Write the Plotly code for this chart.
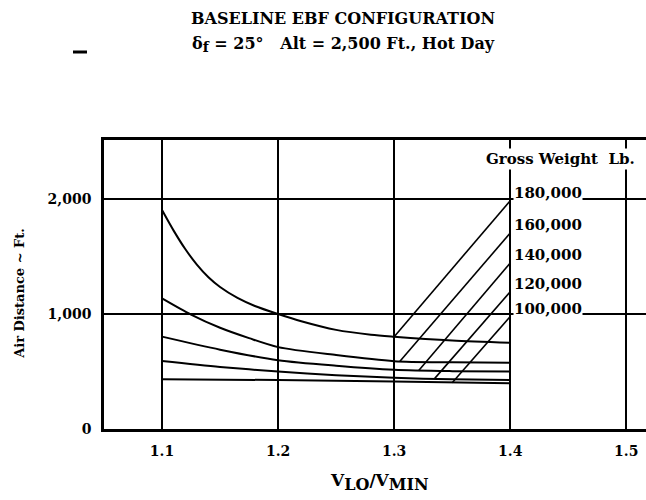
import plotly.graph_objects as go

# ---- data ----
weights = ["180,000", "160,000", "140,000", "120,000", "100,000"]

x_180 = [1.1, 1.11, 1.12, 1.13, 1.14, 1.15, 1.165, 1.18, 1.2, 1.22, 1.25, 1.28, 1.3, 1.35, 1.4]
y_180 = [1904, 1725, 1565, 1430, 1320, 1235, 1140, 1070, 1000, 937, 862, 820, 803, 770, 750]

x_160 = [1.1, 1.125, 1.15, 1.175, 1.2, 1.25, 1.3, 1.35, 1.4]
y_160 = [1136, 995, 880, 790, 712, 643, 590, 580, 577]

x_140 = [1.1, 1.15, 1.2, 1.25, 1.3, 1.35, 1.4]
y_140 = [803, 690, 598, 550, 515, 503, 499]

x_120 = [1.1, 1.15, 1.2, 1.25, 1.3, 1.35, 1.4]
y_120 = [591, 540, 499, 468, 445, 432, 426]

x_100 = [1.1, 1.2, 1.3, 1.4]
y_100 = [432, 426, 412, 397]

# cross lines (start on curve, end on 1.4 line)
diag_x0 = [1.300, 1.305, 1.321, 1.335, 1.350]
diag_y0 = [803, 589, 507, 440, 402]
diag_x1 = [1.4, 1.4, 1.4, 1.4, 1.4]
diag_y1 = [1985, 1704, 1443, 1194, 977]

x_ticks = [1.1, 1.2, 1.3, 1.4, 1.5]
x_ticktext = ["<b>1.1</b>", "<b>1.2</b>", "<b>1.3</b>", "<b>1.4</b>", "<b>1.5</b>"]
y_ticks = [0, 1000, 2000]
y_ticktext = ["<b>0</b>", "<b>1,000</b>", "<b>2,000</b>"]

FONT = "DejaVu Serif"

fig = go.Figure()

for xs, ys in [(x_180, y_180), (x_160, y_160), (x_140, y_140), (x_120, y_120), (x_100, y_100)]:
    fig.add_trace(go.Scatter(x=xs, y=ys, mode="lines",
                             line=dict(color="black", width=2, shape="spline", smoothing=0.8),
                             hoverinfo="skip", showlegend=False))

for a, b, c, d in zip(diag_x0, diag_y0, diag_x1, diag_y1):
    fig.add_trace(go.Scatter(x=[a, c], y=[b, d], mode="lines", line=dict(color="black", width=1.6),
                             hoverinfo="skip", showlegend=False))

annotations = []
for w, yv in zip(weights, diag_y1):
    annotations.append(dict(x=1.4, y=yv, xref="x", yref="y", text="<b>" + w + "</b>", showarrow=False,
                            xanchor="left", yanchor="middle", xshift=3, yshift=8,
                            bgcolor="white", borderpad=0,
                            font=dict(family=FONT, size=15, color="black")))

annotations.append(dict(x=1.443, y=2348, xref="x", yref="y", text="<b>Gross Weight  Lb.</b>", showarrow=False,
                        xanchor="center", yanchor="middle", bgcolor="white", borderpad=1,
                        font=dict(family=FONT, size=15, color="black")))

annotations.append(dict(x=0.441, y=1.419, xref="paper", yref="paper", text="<b>BASELINE EBF CONFIGURATION</b>",
                        showarrow=False, xanchor="center", yanchor="middle",
                        font=dict(family=FONT, size=16, color="black")))
annotations.append(dict(x=0.441, y=1.33, xref="paper", yref="paper",
                        text="<b>δ<sub><span style='font-size:14px'>f</span></sub> = 25°   Alt = 2,500 Ft., Hot Day</b>",
                        showarrow=False, xanchor="center", yanchor="middle",
                        font=dict(family=FONT, size=16, color="black")))
annotations.append(dict(x=-0.155, y=0.471, xref="paper", yref="paper", text="<b>Air Distance ~ Ft.</b>",
                        showarrow=False, textangle=-90, xanchor="center", yanchor="middle",
                        font=dict(family=FONT, size=13, color="black")))
annotations.append(dict(x=0.509, y=-0.183, xref="paper", yref="paper",
                        text="<b>V<sub><span style='font-size:16px'>LO</span></sub>/V<sub><span style='font-size:16px'>MIN</span></sub></b>",
                        showarrow=False, xanchor="center", yanchor="middle",
                        font=dict(family=FONT, size=17, color="black")))

fig.update_layout(
    width=646, height=500,
    margin=dict(l=104, r=0, t=140, b=71),
    paper_bgcolor="white", plot_bgcolor="white",
    showlegend=False,
    annotations=annotations,
    shapes=[dict(type="line", xref="paper", yref="paper", x0=-0.0572, x1=-0.0314, y0=1.3045, y1=1.3045,
                 line=dict(color="black", width=3))],
    xaxis=dict(range=[1.05, 1.517], tickvals=x_ticks, ticktext=x_ticktext,
               showgrid=True, gridcolor="black", gridwidth=2,
               showline=True, linecolor="black", linewidth=2.5, mirror=True,
               ticks="", ticklabelstandoff=7, zeroline=False,
               tickfont=dict(family=FONT, size=14, color="black")),
    yaxis=dict(range=[0, 2513], tickvals=y_ticks, ticktext=y_ticktext,
               showgrid=True, gridcolor="black", gridwidth=2,
               showline=True, linecolor="black", linewidth=2.5, mirror=False,
               ticks="", ticklabelstandoff=7, zeroline=False,
               tickfont=dict(family=FONT, size=14, color="black")),
)

fig.write_html("out.html", config={"displayModeBar": False},
               post_script="document.body.style.margin='0';")
